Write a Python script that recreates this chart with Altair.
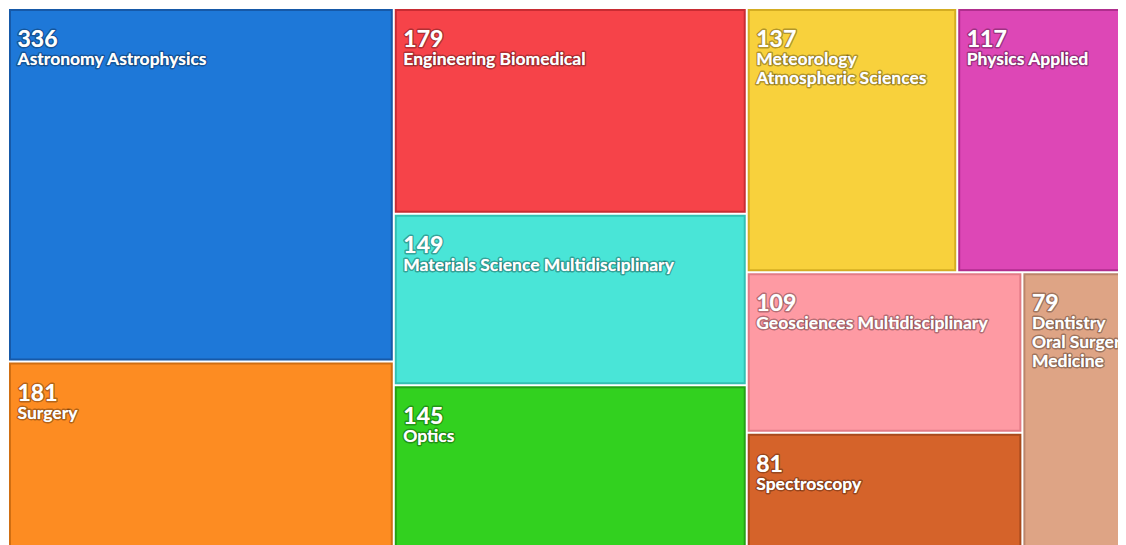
import altair as alt
import pandas as pd

# ---- data ----
categories = [
    "Astronomy Astrophysics", "Surgery", "Engineering Biomedical",
    "Materials Science Multidisciplinary", "Optics",
    "Meteorology Atmospheric Sciences", "Physics Applied",
    "Geosciences Multidisciplinary", "Spectroscopy",
    "Dentistry Oral Surgery Medicine",
]
values = [336, 181, 179, 149, 145, 137, 117, 109, 81, 79]
display_names = [
    "Astronomy Astrophysics", "Surgery", "Engineering Biomedical",
    "Materials Science Multidisciplinary", "Optics",
    "Meteorology\nAtmospheric Sciences", "Physics Applied",
    "Geosciences Multidisciplinary", "Spectroscopy",
    "Dentistry\nOral Surgery\nMedicine",
]
fill_colors = ["#1E78D8", "#FD8C22", "#F64349", "#49E5D7", "#32D11F",
               "#F8D13C", "#DD47B6", "#FE9AA3", "#D5632A", "#DEA485"]
edge_colors = ["#1659a8", "#d06e12", "#c82c33", "#33c0b3", "#25a016",
               "#d4ad22", "#b02e8e", "#e27b86", "#a84a1c", "#bb846a"]

LAYOUT_W, LAYOUT_H = 1129, 544   # treemap extent (runs past the visible frame)
VIEW_W, VIEW_H = 1110, 544       # visible plot area
GAP = 2.0

# ---- squarified treemap layout (d3 squarify, golden ratio) ----
PHI = (1 + 5 ** 0.5) / 2


def squarify(vals, x0, y0, x1, y1, ratio=PHI):
    out = [None] * len(vals)
    n = len(vals)
    i0 = i1 = 0
    value = float(sum(vals))
    while i0 < n:
        dx, dy = x1 - x0, y1 - y0
        sum_v = vals[i1]
        i1 += 1
        min_v = max_v = sum_v
        alpha = max(dy / dx, dx / dy) / (value * ratio)
        beta = sum_v * sum_v * alpha
        min_ratio = max(max_v / beta, beta / min_v)
        while i1 < n:
            nv = vals[i1]
            s = sum_v + nv
            mn, mx = min(min_v, nv), max(max_v, nv)
            beta = s * s * alpha
            nr = max(mx / beta, beta / mn)
            if nr > min_ratio:
                break
            sum_v, min_v, max_v, min_ratio = s, mn, mx, nr
            i1 += 1
        if dx < dy:
            yb = y0 + dy * sum_v / value
            cx = x0
            for i in range(i0, i1):
                w = dx * vals[i] / sum_v
                out[i] = (cx, y0, cx + w, yb)
                cx += w
            y0 = yb
        else:
            xb = x0 + dx * sum_v / value
            cy = y0
            for i in range(i0, i1):
                h = dy * vals[i] / sum_v
                out[i] = (x0, cy, xb, cy + h)
                cy += h
            x0 = xb
        value -= sum_v
        i0 = i1
    return out


cells = squarify(values, 0, 0, LAYOUT_W, LAYOUT_H)
df = pd.DataFrame({
    "category": categories,
    "value": values,
    "name": display_names,
    "x0": [c[0] for c in cells],
    "y0": [c[1] for c in cells],
    "x1": [c[2] for c in cells],
    "y1": [c[3] for c in cells],
})
df["rx0"] = df["x0"] + GAP
df["rx1"] = df["x1"] - GAP
df["ry0"] = df["y0"] + GAP
df["ry1"] = df["y1"] - GAP
df["num"] = df["value"].astype(str)

xs = alt.Scale(domain=[0, VIEW_W], nice=False, zero=False)
ys = alt.Scale(domain=[0, VIEW_H], nice=False, zero=False, reverse=True)
fill_scale = alt.Scale(domain=categories, range=fill_colors)
edge_scale = alt.Scale(domain=categories, range=edge_colors)

base = alt.Chart(df)

rects = base.mark_rect(strokeWidth=2, fillOpacity=1, clip=True).encode(
    x=alt.X("rx0:Q", scale=xs, axis=None),
    x2="rx1:Q",
    y=alt.Y("ry0:Q", scale=ys, axis=None),
    y2="ry1:Q",
    fill=alt.Fill("category:N", scale=fill_scale, legend=None),
    stroke=alt.Stroke("category:N", scale=edge_scale, legend=None),
)

FONT = "Lato"


def text_layer(field, size, dy, halo):
    props = dict(align="left", baseline="alphabetic", dx=9.5, dy=dy,
                 font=FONT, fontSize=size, fontWeight="bold",
                 lineBreak="\n", lineHeight=19, clip=True, fill="#ffffff")
    if halo:
        props.update(stroke="#000000", strokeOpacity=0.3, strokeWidth=3,
                     strokeJoin="round")
    return base.mark_text(**props).encode(
        x=alt.X("x0:Q", scale=xs, axis=None),
        y=alt.Y("y0:Q", scale=ys, axis=None),
        text=f"{field}:N",
    )


chart = alt.layer(
    rects,
    text_layer("num", 23, 39, True),
    text_layer("name", 17.5, 57, True),
    text_layer("num", 23, 39, False),
    text_layer("name", 17.5, 57, False),
).properties(
    width=VIEW_W, height=VIEW_H, padding=0, autosize="none",
    background="#ffffff",
).configure_view(stroke=None)

chart.save("out.html", embed_options={"renderer": "svg", "actions": False})
